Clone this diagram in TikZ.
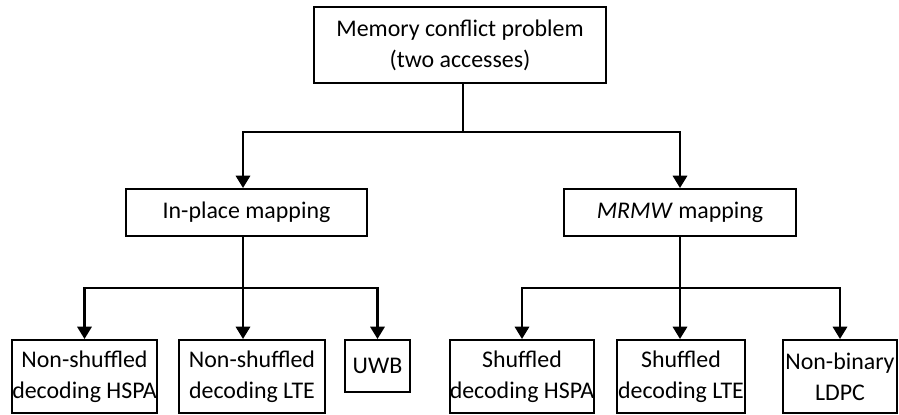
\documentclass[tikz,border=0pt]{standalone}
\usepackage{fontspec}
\setmainfont{Carlito}
\usepackage{tikz}
\usetikzlibrary{arrows.meta,calc}

\begin{document}
\begin{tikzpicture}[x=0.02cm, y=-0.02cm,
    every node/.style={draw, line width=1.1pt, inner sep=0pt, align=center, font=\fontsize{13.6}{17.5}\selectfont},
    link/.style={line width=1.6pt},
    arr/.style={link, -{Triangle[width=8pt,length=7pt]}}]
    \useasboundingbox (0,0) rectangle (899,414);

    \node[minimum width=292*0.02cm, minimum height=76*0.02cm] (problem) at (460, 45) {Memory conflict problem\\(two accesses)};

    \node[minimum width=241*0.02cm, minimum height=47*0.02cm] (inplace) at (246.5, 212.5) {In-place mapping};
    \node[minimum width=232*0.02cm, minimum height=47*0.02cm] (mrmw) at (680, 212.5) {\textit{MRMW} mapping};

    \node[minimum width=145*0.02cm, minimum height=73*0.02cm] (nshspa) at (84.5, 376.5) {Non-shuffled\\decoding HSPA};
    \node[minimum width=146*0.02cm, minimum height=73*0.02cm] (nslte) at (252, 376.5) {Non-shuffled\\decoding LTE};
    \node[minimum width=65*0.02cm, minimum height=52*0.02cm] (uwb) at (377.5, 366) {UWB};

    \node[minimum width=140*0.02cm, minimum height=73*0.02cm] (shspa) at (522, 376.5) {Shuffled\\decoding HSPA};
    \node[minimum width=128*0.02cm, minimum height=73*0.02cm] (slte) at (681, 376.5) {Shuffled\\decoding LTE};
    \node[minimum width=114*0.02cm, minimum height=73*0.02cm] (nbldpc) at (840, 376.5) {Non-binary\\LDPC};

    % junctions
    \coordinate (top) at (463, 132);
    \coordinate (left) at (243, 288);
    \coordinate (right) at (680, 288);

    \draw[link] (problem.south -| top) -- (top);
    \draw[arr] (top) -| (inplace.north -| left);
    \draw[arr] (top) -| (mrmw.north);

    \draw[link] (inplace.south -| left) -- (left);
    \draw[arr] (left) -| (nshspa.north);
    \draw[arr] (left) -- (left |- nslte.north);
    \draw[arr] (left) -| (uwb.north);

    \draw[link] (mrmw.south) -- (right);
    \draw[arr] (right) -| (shspa.north);
    \draw[arr] (right) -- (right |- slte.north);
    \draw[arr] (right) -| (nbldpc.north);
\end{tikzpicture}
\end{document}
